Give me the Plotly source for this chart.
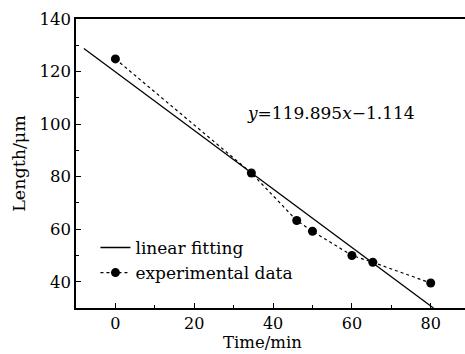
import plotly.graph_objects as go
import numpy as np

# Experimental data
time_min = [0, 34.5, 46, 50, 60, 65.3, 80]
length_um = [124.8, 81.4, 63.3, 59.2, 50.0, 47.4, 39.5]

# Linear fit coefficients (length = intercept - slope * time)
fit_intercept = 119.895
fit_slope = 1.114
fit_x_start = -8
fit_y_floor = 30

fit_x = [fit_x_start, (fit_intercept - fit_y_floor) / fit_slope]
fit_y = [fit_intercept - fit_slope * x for x in fit_x]

FONT = "DejaVu Serif"

fig = go.Figure()
fig.add_trace(go.Scatter(
    x=fit_x, y=fit_y, mode="lines", name="linear fitting",
    line=dict(color="black", width=1.3),
))
fig.add_trace(go.Scatter(
    x=time_min, y=length_um, mode="lines+markers", name="experimental data",
    line=dict(color="black", width=1.2, dash="dot"),
    marker=dict(color="black", size=9),
))

fig.add_annotation(
    x=54.6, y=104.4, xref="x", yref="y", showarrow=False,
    text="<i>y</i>=119.895<i>x</i>\u22121.114",
    font=dict(family=FONT, size=17, color="black"),
)
# x-axis title placed as annotation for exact positioning
fig.add_annotation(
    x=0.479, y=0, xref="paper", yref="paper", yanchor="top", yshift=-24,
    showarrow=False, text="Time/min", borderpad=0,
    font=dict(family=FONT, size=16.5, color="black"),
)

axis_common = dict(
    showgrid=False, zeroline=False, showline=True, linecolor="black", linewidth=1.5,
    ticks="inside", ticklen=5, tickwidth=1, tickcolor="black",
    tickfont=dict(family=FONT, size=16.5, color="black"),
)

fig.update_xaxes(
    range=[-10, 88.7], tick0=0, dtick=20, mirror=True,
    minor=dict(ticks="inside", ticklen=3, dtick=10, tick0=0, tickcolor="black"),
    **axis_common,
)
fig.update_xaxes(tickfont=dict(family=FONT, size=16, color="black"))
fig.update_yaxes(
    range=[30, 140], tick0=40, dtick=20,
    minor=dict(ticks="inside", ticklen=3, dtick=10, tick0=0, tickcolor="black"),
    title=dict(text="Length/\u03bcm", font=dict(family=FONT, size=17.5, color="black"), standoff=9),
    **axis_common,
)

fig.update_layout(
    width=465, height=354,
    margin=dict(l=76, r=0, t=19, b=46),
    plot_bgcolor="white", paper_bgcolor="white",
    showlegend=True,
    legend=dict(
        x=0.05, y=0.27, xanchor="left", yanchor="top",
        bgcolor="rgba(0,0,0,0)",
        font=dict(family=FONT, size=17, color="black"),
        tracegroupgap=0, itemwidth=30,
    ),
)

fig.write_html("out.html")
